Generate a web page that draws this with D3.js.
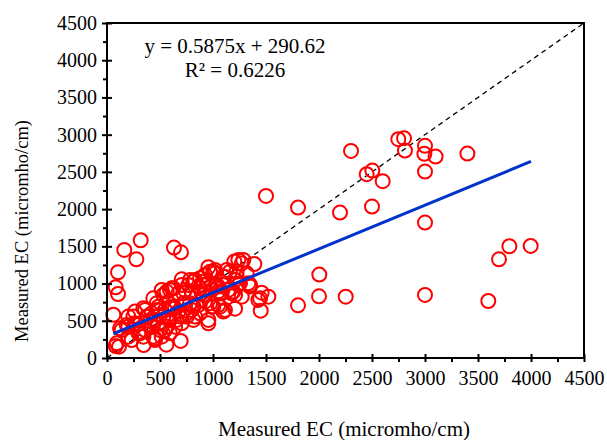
<!DOCTYPE html>
<html>
<head>
<meta charset="utf-8">
<script src="https://cdn.jsdelivr.net/npm/d3@7"></script>
<style>
  body { margin: 0; background: #fff; }
  text { font-family: "Liberation Serif", "Times New Roman", serif; }
</style>
</head>
<body>
<div id="chart"></div>
<script>
// measured EC pairs
const measuredX = [
  2302, 2748, 2802, 2811, 3000, 2994, 3100, 3400, 3000, 2503, 2450, 2601, 1802, 2198, 2500, 3000,
  3796, 3997, 3698, 2003, 2000, 2252, 1802, 3000, 3597, 1500,
  318, 163, 632, 698, 277, 104, 82, 104, 60, 82, 113,
  1201, 1271, 1390, 1239, 956, 972, 1019, 1107, 925, 830, 768, 705, 1318, 1334, 1208,
  516, 563, 610, 673, 736, 799, 862, 893, 956, 988, 1050, 1082, 1145, 1192, 1239, 1271, 1459, 1522, 1444,
  201, 264, 359, 422, 484, 547, 610, 673, 736, 799, 862, 925, 988, 1050, 1113, 1208, 830, 956, 437, 579, 705,
  138, 201, 264, 296, 359, 422, 484, 547, 642, 390, 516,
  346, 453, 560, 695, 201, 1450,
  1003, 1160, 1223, 1349, 815, 909, 877, 1066, 972, 1066, 594, 531, 469, 626, 720, 815, 877, 956,
  752, 657, 531, 453, 500, 594, 437, 563, 815, 1208, 1255, 1097,
  1286, 1019, 1129, 1223, 1098, 878, 783, 1349, 1428, 1098, 909, 720, 626, 437, 343, 249, 186, 123,
  91, 233, 343, 453, 406, 500, 594, 689, 783, 1003, 752, 642, 579, 469, 374, 280, 311, 1050, 1176,
  909, 1035, 705
];
const measuredY = [
  2782, 2940, 2953, 2786, 2850, 2742, 2706, 2746, 2504, 2518, 2469, 2375, 2020, 1953, 2034, 1819,
  1501, 1505, 1326, 1120, 829, 824, 708, 847, 766, 2177,
  1582, 1452, 1483, 1420, 1326, 1152, 950, 860, 582, 161, 152,
  1295, 1272, 1263, 1317, 1219, 1160, 1138, 1093, 1116, 1048, 981, 1057, 1138, 1004, 1048,
  914, 892, 936, 869, 914, 892, 959, 869, 1004, 914, 959, 869, 914, 892, 981, 824, 878, 824, 802,
  556, 623, 645, 600, 690, 645, 668, 623, 712, 645, 712, 757, 690, 712, 645, 663, 556, 511, 488, 533, 466,
  376, 421, 466, 332, 376, 421, 466, 376, 421, 556, 287,
  175, 264, 179, 229, 287, 636,
  1160, 1160, 1093, 981, 1026, 1026, 936, 869, 735, 690, 914, 847, 735, 690, 735, 690, 600, 466,
  556, 511, 556, 511, 376, 332, 287, 421, 511, 847, 1004, 981,
  1317, 1183, 1183, 1161, 1093, 1071, 1049, 959, 780, 623, 847, 869, 937, 802, 668, 556, 444, 399,
  197, 242, 287, 242, 489, 578, 511, 556, 735, 690, 601, 668, 735, 645, 556, 444, 332, 892, 869,
  981, 981, 981
];

const slope = 0.5875;
const intercept = 290.62;
const rSquared = 0.6226;
const fitRange = [60, 4000];
const majorTicks = d3.range(0, 4501, 500);
const minorTicks = d3.range(250, 4500, 500);

const width = 607, height = 440;
const margin = {left: 107, right: 23, top: 23, bottom: 82};
const innerW = width - margin.left - margin.right;
const innerH = height - margin.top - margin.bottom;
const serif = '"Liberation Serif", "Times New Roman", serif';

let svg = d3.select("#chart").append("svg")
  .attr("width", width)
  .attr("height", height);

let x = d3.scaleLinear().domain([0, 4500]).range([0, innerW]);
let y = d3.scaleLinear().domain([0, 4500]).range([innerH, 0]);

let g = svg.append("g").attr("transform", `translate(${margin.left},${margin.top})`);

// 1:1 line
g.append("line")
  .attr("x1", x(0)).attr("y1", y(0))
  .attr("x2", x(4500)).attr("y2", y(4500))
  .attr("stroke", "#000")
  .attr("stroke-width", 1.3)
  .attr("stroke-dasharray", "5,4");

// points
let points = measuredX.map((v, i) => [v, measuredY[i]]);
g.selectAll(".pt")
  .data(points)
  .enter()
  .append("circle")
  .attr("class", "pt")
  .attr("cx", d => x(d[0]))
  .attr("cy", d => y(d[1]))
  .attr("r", 7)
  .attr("fill", "none")
  .attr("stroke", "#ff0000")
  .attr("stroke-width", 2);

// fitted line
g.append("line")
  .attr("x1", x(fitRange[0])).attr("y1", y(slope * fitRange[0] + intercept))
  .attr("x2", x(fitRange[1])).attr("y2", y(slope * fitRange[1] + intercept))
  .attr("stroke", "#0033cc")
  .attr("stroke-width", 3);

// frame
g.append("rect")
  .attr("width", innerW).attr("height", innerH)
  .attr("fill", "none")
  .attr("stroke", "#000")
  .attr("stroke-width", 2);

// axes
let fmt = d3.format("d");
let xAxis = g.append("g")
  .attr("transform", `translate(0,${innerH})`)
  .call(d3.axisBottom(x).tickValues(majorTicks).tickFormat(fmt).tickSize(4).tickPadding(9));
let yAxis = g.append("g")
  .call(d3.axisLeft(y).tickValues(majorTicks).tickFormat(fmt).tickSize(5).tickPadding(5));
g.append("g")
  .attr("transform", `translate(0,${innerH})`)
  .call(d3.axisBottom(x).tickValues(minorTicks).tickSize(4).tickFormat(""));
g.append("g")
  .call(d3.axisLeft(y).tickValues(minorTicks).tickSize(4).tickFormat(""));

// major ticks cross the axis line
xAxis.selectAll(".tick line").attr("y1", -4);
yAxis.selectAll(".tick line").attr("x1", -5).attr("x2", 5);

g.selectAll(".domain").remove();
g.selectAll(".tick line").attr("stroke", "#000").attr("stroke-width", 2);
g.selectAll(".tick text")
  .style("font-family", serif)
  .style("font-size", "20px")
  .attr("fill", "#000");

// equation
let eq = svg.append("g")
  .style("font-size", "21px")
  .attr("text-anchor", "middle")
  .attr("fill", "#000");
eq.append("text").attr("x", 235).attr("y", 53).text(`y = ${slope}x + ${intercept}`);
eq.append("text").attr("x", 235).attr("y", 77).text(`R² = ${rSquared}`);

// axis titles
svg.append("text")
  .attr("x", 344)
  .attr("y", 436)
  .attr("text-anchor", "middle")
  .style("font-size", "21px")
  .text("Measured EC (micromho/cm)");
svg.append("text")
  .attr("transform", `translate(28,231) rotate(-90)`)
  .attr("text-anchor", "middle")
  .style("font-size", "18.5px")
  .text("Measured EC (micromho/cm)");
</script>
</body>
</html>
